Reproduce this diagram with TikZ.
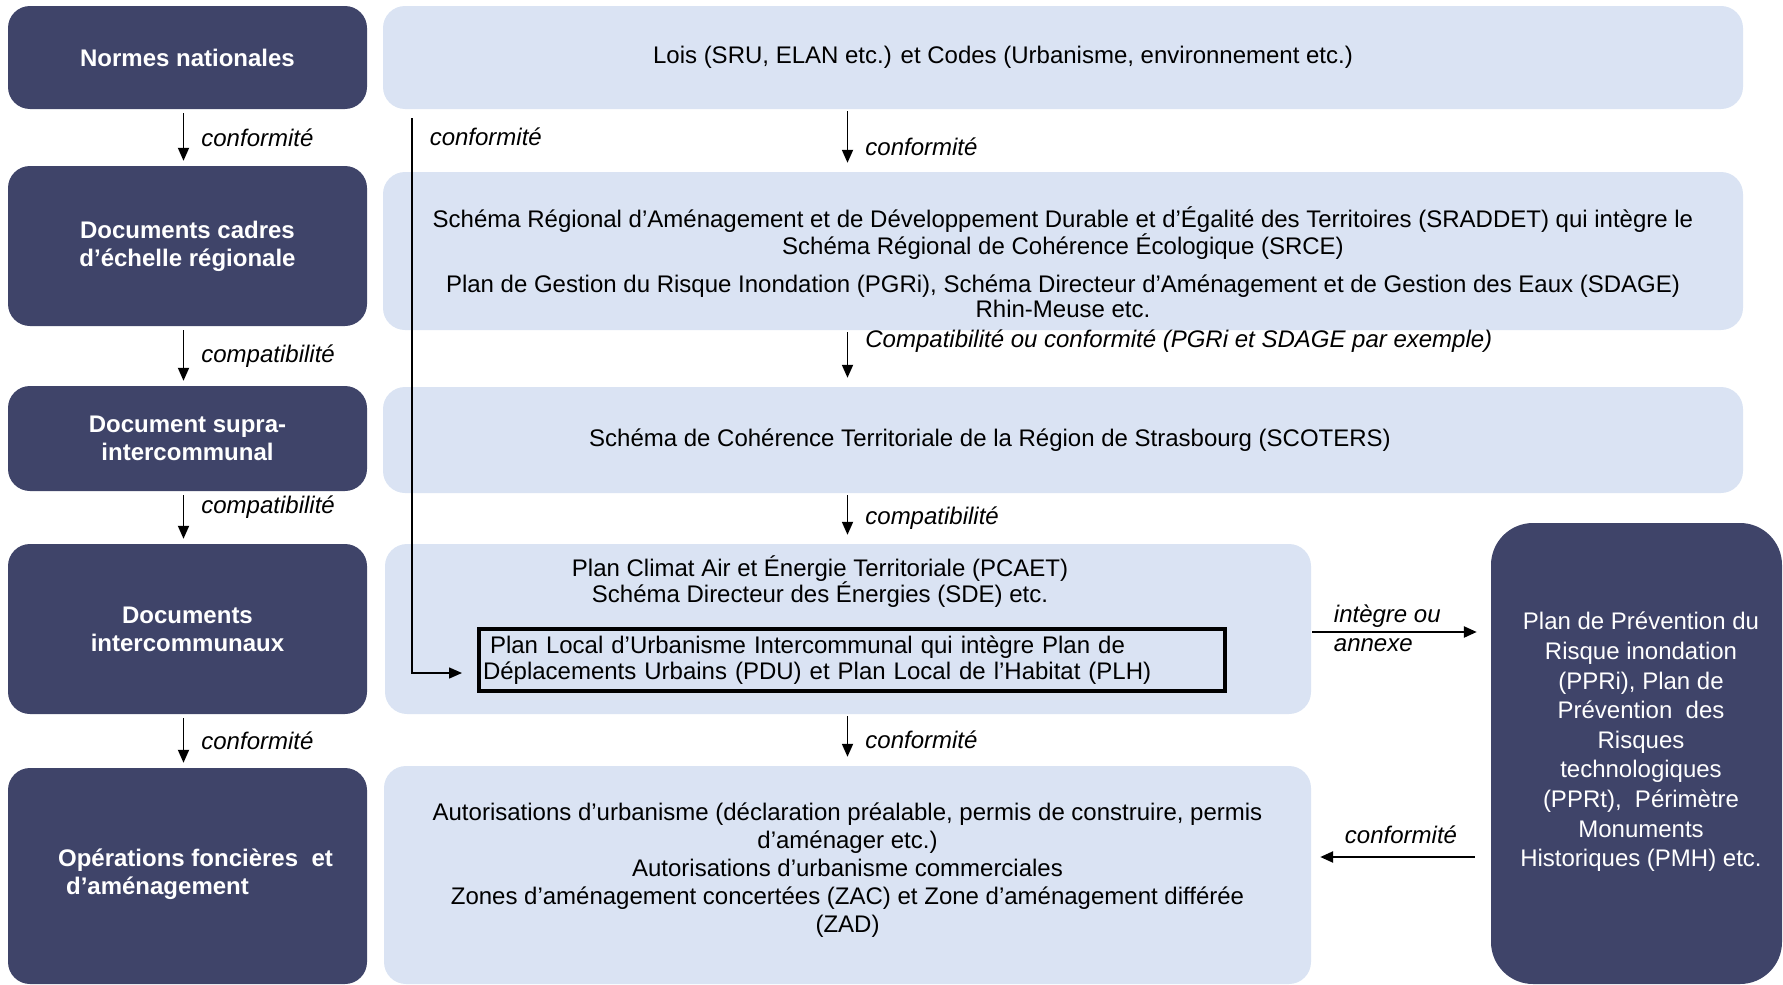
\documentclass[tikz,border=0pt]{standalone}
\usepackage{fontspec}
\setmainfont{Liberation Sans}
\usetikzlibrary{arrows.meta}
\definecolor{boxdark}{RGB}{63,68,105}
\definecolor{boxlight}{RGB}{218,227,243}

\begin{document}
\begin{tikzpicture}[
  x = 1pt, y = -1pt,
  > = {Triangle[length=13pt,width=11pt]},
  every node/.style = {font=\fontsize{24}{26}\selectfont},
  dark/.style = {fill=boxdark,rounded corners=22pt,text=white,align=center,inner sep=0pt,font=\fontsize{24}{28}\selectfont\bfseries},
  light/.style = {fill=boxlight,rounded corners=22pt,inner sep=0pt},
  txt/.style = {align=center,inner sep=0pt},
  plu/.style = {draw=black,line width=4pt,fill=boxlight,align=left,inner xsep=4pt,inner ysep=0pt,text width=738pt,minimum height=62pt},
  lbl/.style = {font=\fontsize{24}{28}\selectfont\itshape,anchor=west,inner sep=0pt,xshift=17pt},
  flow/.style = {->,line width=1.8pt,shorten <=4pt,shorten >=5pt},
  mid/.style = {->,line width=1.8pt,shorten <=2pt,shorten >=9pt},
  side/.style = {->,line width=2.4pt}
  ]
  \useasboundingbox (0,0) rectangle (1783,985);
  % niveaux
  \node[dark,minimum width=359pt,minimum height=103pt] (n1) at (187.5,57.5) {Normes nationales};
  \node[dark,minimum width=359pt,minimum height=160pt] (n2) at (187.5,246) {Documents cadres\\d’échelle régionale};
  \node[dark,minimum width=359pt,minimum height=105pt] (n3) at (187.5,438.5) {Document supra-\\intercommunal};
  \node[dark,minimum width=359pt,minimum height=170pt] (n4) at (187.5,629) {Documents\\intercommunaux};
  \node[dark,minimum width=359pt,minimum height=216pt] (n5) at (187.5,876) {};
  \node[txt,align=left,text=white,font=\fontsize{24}{28}\selectfont\bfseries] at (195.5,874) {Opérations foncières\ \ et\\\hspace*{8pt}d’aménagement};
  % documents
  \node[light,minimum width=1360pt,minimum height=103pt] (d1) at (1063,57.5) {};
  \node[txt] at (1003,57.5) {Lois (SRU, ELAN etc.) et Codes (Urbanisme, environnement etc.)};
  \node[light,minimum width=1360pt,minimum height=158pt] (d2) at (1063,251) {};
  \node[txt,font=\fontsize{24}{25}\selectfont] at (1063,262.5) {Schéma Régional d’Aménagement et de Développement Durable et d’Égalité des Territoires (SRADDET) qui intègre le\\Schéma Régional de Cohérence Écologique (SRCE)\\[13pt]Plan de Gestion du Risque Inondation (PGRi), Schéma Directeur d’Aménagement et de Gestion des Eaux (SDAGE)\\Rhin-Meuse etc.};
  \node[light,minimum width=1360pt,minimum height=106pt] (d3) at (1063,440) {};
  \node[txt] at (990,440) {Schéma de Cohérence Territoriale de la Région de Strasbourg (SCOTERS)};
  \node[light,minimum width=926pt,minimum height=170pt] (d4) at (848,629) {};
  \node[txt] at (820,582) {Plan Climat Air et Énergie Territoriale (PCAET)\\Schéma Directeur des Énergies (SDE) etc.};
  \node[plu] (plu) at (852,660) {\hspace*{7pt}Plan Local d’Urbanisme Intercommunal qui intègre Plan de\\Déplacements Urbains (PDU) et Plan Local de l’Habitat (PLH)};
  \node[light,minimum width=927pt,minimum height=218pt] (d5) at (847.5,875) {};
  \node[txt,font=\fontsize{24}{28}\selectfont] at (847.5,870) {Autorisations d’urbanisme (déclaration préalable, permis de construire, permis\\d’aménager etc.)\\Autorisations d’urbanisme commerciales\\Zones d’aménagement concertées (ZAC) et Zone d’aménagement différée\\(ZAD)};
  \node[dark,rounded corners=42pt,minimum width=291pt,minimum height=461pt] (ppr) at (1636.5,753.5) {};
  \node[txt,text=white,font=\fontsize{24}{29.6}\selectfont] at (1641,742) {Plan de Prévention du\\Risque inondation\\(PPRi), Plan de\\Prévention\ \ des\\Risques\\technologiques\\(PPRt),\ \ Périmètre\\Monuments\\Historiques (PMH) etc.};
  % relations
  \draw[flow] ([xshift=-4pt]n1.south) -- ([xshift=-4pt]n2.north) node[lbl,midway] {conformité};
  \draw[flow] ([xshift=-4pt]n2.south) -- ([xshift=-4pt]n3.north) node[lbl,midway] {compatibilité};
  \draw[flow] ([xshift=-4pt]n3.south) -- ([xshift=-4pt]n4.north) node[lbl,pos=.3] {compatibilité};
  \draw[flow] ([xshift=-4pt]n4.south) -- ([xshift=-4pt]n5.north) node[lbl,midway] {conformité};
  \draw[mid] (d1.south -| d5.north) -- (d2.north -| d5.north) node[lbl,pos=.6] {conformité};
  \draw[mid] (d2.south -| d5.north) -- (d3.north -| d5.north) node[lbl,pos=.2] {Compatibilité ou conformité (PGRi et SDAGE par exemple)};
  \draw[mid] (d3.south -| d5.north) -- (d4.north -| d5.north) node[lbl,midway] {compatibilité};
  \draw[mid] (d4.south -| d5.north) -- (d5.north) node[lbl,midway] {conformité};
  \coordinate (vtop) at (412,118);
  \draw[->,line width=1.5pt,shorten >=15pt] (vtop) node[lbl,yshift=-19pt] {conformité} |- ([yshift=-13pt]plu.west);
  \draw[side,shorten <=1pt,shorten >=14pt] ([yshift=-3pt]d4.east) -- ([yshift=-3pt]ppr.west |- d4.east) node[pos=.12,anchor=west,align=left,inner sep=0pt,yshift=4pt,font=\fontsize{24}{29}\selectfont\itshape] {intègre ou\\annexe};
  \coordinate (cb) at (1400,857);
  \draw[side,shorten <=16pt,shorten >=9pt] (ppr.west |- cb) -- (d5.east |- cb) node[midway,above=12pt,inner sep=0pt,font=\fontsize{24}{28}\selectfont\itshape] {conformité};
\end{tikzpicture}
\end{document}
